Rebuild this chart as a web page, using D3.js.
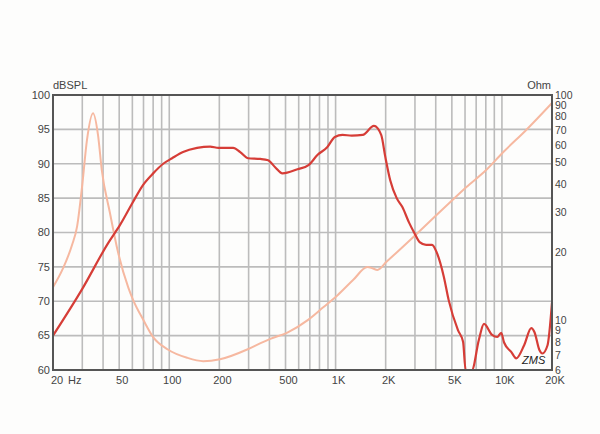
<!DOCTYPE html>
<html>
<head>
<meta charset="utf-8">
<script src="https://cdn.jsdelivr.net/npm/d3@7"></script>
<style>
  html, body { margin: 0; padding: 0; background: #fdfdfc; }
  svg text { font-family: "Liberation Sans", Arial, sans-serif; fill: #444; }
</style>
</head>
<body>
<svg id="chart" width="600" height="434"></svg>
<script>
// ---- data ----
const splFreq = [20, 30, 43, 50.6, 60.4, 69.5, 80, 92, 104, 121, 147, 176, 198, 242, 267, 298, 353, 393, 433, 479, 590, 687, 780, 890, 990, 1100, 1250, 1455, 1700, 1880, 1990, 2130, 2330, 2520, 2770, 2980, 3200, 3500, 3800, 4070, 4480, 4780, 5440, 5840, 6050, 6600, 7270, 7800, 8730, 9370, 9900, 10300, 11400, 12200, 13600, 15000, 15700, 16800, 17500, 18800, 20000];
const splDb   = [65, 71.8, 78.5, 81.1, 84.4, 86.9, 88.6, 90, 90.8, 91.7, 92.3, 92.5, 92.3, 92.3, 91.7, 90.8, 90.7, 90.5, 89.5, 88.6, 89.2, 89.8, 91.3, 92.4, 93.9, 94.2, 94.1, 94.2, 95.5, 94.2, 91, 87.6, 85, 83.7, 81.4, 79.9, 78.6, 78.2, 78.2, 77, 73.5, 70.2, 65.8, 64.1, 60, 60, 64.4, 66.7, 65.1, 64.8, 65.4, 64, 62.6, 61.7, 63.6, 66.1, 65.5, 62.9, 62.4, 63.6, 69.8];

const impFreq = [20, 23, 26, 27.9, 30, 32, 34.8, 37.3, 39.3, 44, 49.3, 56.8, 60.6, 69.9, 80, 98, 128, 160, 202, 294, 354, 405, 513, 680, 843, 1028, 1278, 1553, 1664, 1784, 2030, 3025, 4825, 6120, 8040, 10200, 14000, 20000];
const impOhm  = [14.0, 17.0, 21.5, 26, 40, 63, 83, 66.4, 46.4, 29.9, 19.9, 13.9, 12.3, 10.0, 8.4, 7.4, 6.8, 6.57, 6.7, 7.4, 7.9, 8.25, 8.8, 10.0, 11.4, 12.9, 15.1, 17.2, 17.0, 16.7, 18.2, 23.9, 33.1, 39.0, 46.4, 55.8, 69.9, 92.1];

const dbTicks  = [60, 65, 70, 75, 80, 85, 90, 95, 100];
const ohmTicks = [6, 7, 8, 9, 10, 20, 30, 40, 50, 60, 70, 80, 90, 100];
const freqGrid = [30, 40, 50, 60, 70, 80, 90, 100, 200, 300, 400, 500, 600, 700, 800, 900, 1000, 2000, 3000, 4000, 5000, 6000, 7000, 8000, 9000, 10000];
const freqLabelVals = [50, 100, 200, 500, 1000, 2000, 5000, 10000, 20000];
const freqLabels    = ["50", "100", "200", "500", "1K", "2K", "5K", "10K", "20K"];

// ---- layout ----
const L = 53, R = 552, T = 95, B = 370;
const svg = d3.select("#chart");

const x = d3.scaleLog().domain([20, 20000]).range([L, R]);
const ySpl = d3.scaleLinear().domain([60, 100]).range([B, T]);
const yOhm = d3.scaleLog().domain([6, 100]).range([B, T]);

// grid
const grid = svg.append("g").attr("stroke", "#bcbcbc").attr("stroke-width", 1.6);
grid.selectAll("line.v").data(freqGrid).join("line")
  .attr("x1", d => x(d)).attr("x2", d => x(d)).attr("y1", T).attr("y2", B);
grid.selectAll("line.h").data(dbTicks.filter(d => d > 60 && d < 100)).join("line")
  .attr("x1", L).attr("x2", R).attr("y1", d => ySpl(d)).attr("y2", d => ySpl(d));

// clip
svg.append("clipPath").attr("id", "plot")
  .append("rect").attr("x", L).attr("y", T - 2).attr("width", R - L).attr("height", B - T + 3);

// impedance curve
const impLine = d3.line().x((d, i) => x(impFreq[i])).y(d => yOhm(d)).curve(d3.curveMonotoneX);
svg.append("path").attr("clip-path", "url(#plot)")
  .attr("d", impLine(impOhm))
  .attr("fill", "none").attr("stroke", "#f6b8a0").attr("stroke-width", 2);

// SPL curve
const splLine = d3.line().x((d, i) => x(splFreq[i])).y(d => ySpl(d)).curve(d3.curveMonotoneX);
svg.append("path").attr("clip-path", "url(#plot)")
  .attr("d", splLine(splDb))
  .attr("fill", "none").attr("stroke", "#d63d37").attr("stroke-width", 2.2);

// frame
svg.append("rect").attr("x", L).attr("y", T).attr("width", R - L).attr("height", B - T)
  .attr("fill", "none").attr("stroke", "#555").attr("stroke-width", 2);

// left axis labels
svg.append("g").selectAll("text").data(dbTicks).join("text")
  .attr("x", L - 3).attr("y", d => ySpl(d)).attr("dy", "0.35em")
  .attr("text-anchor", "end").attr("font-size", 11).text(d => d);

// right axis labels
svg.append("g").selectAll("text").data(ohmTicks).join("text")
  .attr("x", R + 3).attr("y", d => yOhm(d)).attr("dy", "0.35em")
  .attr("text-anchor", "start").attr("font-size", 10.5).text(d => d);

// x labels
svg.append("g").selectAll("text").data(freqLabelVals).join("text")
  .attr("x", d => x(d) + 3).attr("y", 384)
  .attr("text-anchor", "middle").attr("font-size", 11)
  .text((d, i) => freqLabels[i]);
svg.append("text").attr("x", L + 4).attr("y", 384).attr("text-anchor", "middle").attr("font-size", 11).text("20");
svg.append("text").attr("x", L + 15).attr("y", 384).attr("text-anchor", "start").attr("font-size", 11).text("Hz");

// axis titles
svg.append("text").attr("x", L).attr("y", 89).attr("font-size", 11).text("dBSPL");
svg.append("text").attr("x", R - 1).attr("y", 89).attr("text-anchor", "end").attr("font-size", 11).text("Ohm");

// signature
svg.append("text").attr("x", 522).attr("y", 364).attr("font-size", 11)
  .attr("font-style", "italic").style("fill", "#222").text("ZMS");
</script>
</body>
</html>
